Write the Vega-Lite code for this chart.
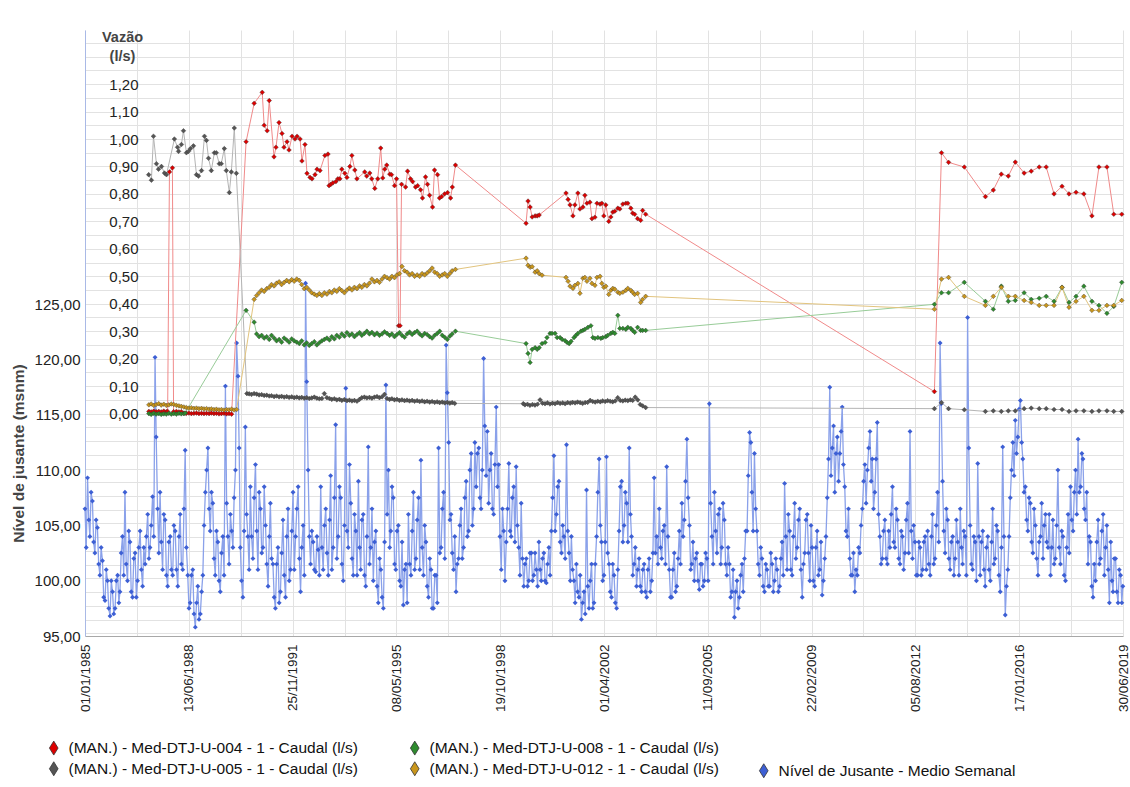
{
"$schema":"https://vega.github.io/schema/vega-lite/v6.json",
"width":1038,"height":606,
"autosize":{"type":"none"},
"padding":{"left":85,"top":30,"right":7,"bottom":151},
"background":"white",
"config":{"view":{"stroke":null},"font":"Liberation Sans",
 "axis":{"labelFont":"Liberation Sans","titleFont":"Liberation Sans","labelColor":"#222","titleColor":"#444","labelOverlap":false},
 "legend":{"labelFont":"Liberation Sans","labelColor":"#111","padding":0}},
"datasets":{
"lvl":[
{"d":"1985-01-01","v":106.5},{"d":"1985-01-16","v":103.0},{"d":"1985-02-01","v":109.3},{"d":"1985-02-16","v":105.5},{"d":"1985-03-01","v":104.0},{"d":"1985-03-16","v":108.0},{"d":"1985-04-01","v":107.2},{"d":"1985-04-16","v":103.5},{"d":"1985-05-01","v":102.5},{"d":"1985-05-16","v":105.5},{"d":"1985-06-01","v":104.8},{"d":"1985-06-16","v":101.5},{"d":"1985-07-01","v":100.5},{"d":"1985-07-16","v":103.0},{"d":"1985-08-01","v":101.8},{"d":"1985-08-16","v":98.5},{"d":"1985-09-01","v":98.2},{"d":"1985-09-16","v":101.0},{"d":"1985-10-01","v":100.0},{"d":"1985-10-16","v":97.5},{"d":"1985-11-01","v":96.8},{"d":"1985-11-16","v":100.0},{"d":"1985-12-01","v":99.0},{"d":"1985-12-16","v":97.0},
{"d":"1986-01-01","v":97.5},{"d":"1986-01-16","v":100.0},{"d":"1986-02-01","v":100.5},{"d":"1986-02-16","v":98.0},{"d":"1986-03-01","v":99.0},{"d":"1986-03-16","v":102.5},{"d":"1986-04-01","v":104.0},{"d":"1986-04-16","v":100.5},{"d":"1986-05-01","v":108.0},{"d":"1986-05-16","v":101.5},{"d":"1986-06-01","v":100.0},{"d":"1986-06-16","v":104.5},{"d":"1986-07-01","v":103.5},{"d":"1986-07-16","v":99.0},{"d":"1986-08-01","v":98.5},{"d":"1986-08-16","v":102.0},{"d":"1986-09-01","v":102.5},{"d":"1986-09-16","v":98.5},{"d":"1986-10-01","v":100.0},{"d":"1986-10-16","v":103.0},{"d":"1986-11-01","v":104.5},{"d":"1986-11-16","v":101.0},{"d":"1986-12-01","v":99.5},{"d":"1986-12-16","v":103.0},
{"d":"1987-01-01","v":101.5},{"d":"1987-01-16","v":104.0},{"d":"1987-02-01","v":106.0},{"d":"1987-02-16","v":102.0},{"d":"1987-03-01","v":103.0},{"d":"1987-03-16","v":105.0},{"d":"1987-04-01","v":107.6},{"d":"1987-04-16","v":104.0},{"d":"1987-05-01","v":120.2},{"d":"1987-05-15","v":113.0},{"d":"1987-06-01","v":106.5},{"d":"1987-06-16","v":102.5},{"d":"1987-07-01","v":108.0},{"d":"1987-07-16","v":103.5},{"d":"1987-08-01","v":101.0},{"d":"1987-08-16","v":106.0},{"d":"1987-09-01","v":105.5},{"d":"1987-09-16","v":100.5},{"d":"1987-10-01","v":99.5},{"d":"1987-10-16","v":103.5},{"d":"1987-11-01","v":104.0},{"d":"1987-11-16","v":101.0},{"d":"1987-12-01","v":100.5},{"d":"1987-12-16","v":105.0},
{"d":"1988-01-01","v":104.5},{"d":"1988-01-16","v":101.0},{"d":"1988-02-01","v":99.5},{"d":"1988-02-16","v":104.0},{"d":"1988-03-01","v":106.0},{"d":"1988-03-16","v":101.5},{"d":"1988-04-01","v":101.0},{"d":"1988-04-16","v":106.5},{"d":"1988-05-01","v":111.8},{"d":"1988-05-16","v":103.0},{"d":"1988-06-01","v":100.5},{"d":"1988-06-16","v":97.5},{"d":"1988-07-01","v":98.0},{"d":"1988-07-16","v":100.5},{"d":"1988-08-01","v":101.0},{"d":"1988-08-16","v":97.0},{"d":"1988-09-01","v":95.8},{"d":"1988-09-16","v":98.0},{"d":"1988-10-01","v":99.5},{"d":"1988-10-16","v":96.5},{"d":"1988-11-01","v":97.0},{"d":"1988-11-16","v":99.0},{"d":"1988-12-01","v":100.5},{"d":"1988-12-16","v":105.0},
{"d":"1989-01-01","v":108.0},{"d":"1989-01-16","v":110.0},{"d":"1989-02-01","v":112.0},{"d":"1989-02-16","v":106.5},{"d":"1989-03-01","v":104.5},{"d":"1989-03-16","v":108.0},{"d":"1989-04-01","v":107.0},{"d":"1989-04-16","v":102.0},{"d":"1989-05-01","v":100.5},{"d":"1989-05-16","v":104.5},{"d":"1989-06-01","v":103.5},{"d":"1989-06-16","v":100.0},{"d":"1989-07-01","v":99.0},{"d":"1989-07-16","v":102.5},{"d":"1989-08-01","v":104.0},{"d":"1989-08-16","v":100.5},{"d":"1989-09-01","v":117.6},{"d":"1989-09-16","v":107.0},{"d":"1989-10-01","v":104.0},{"d":"1989-10-16","v":101.5},{"d":"1989-11-01","v":106.0},{"d":"1989-11-16","v":104.5},{"d":"1989-12-01","v":103.0},{"d":"1989-12-16","v":107.5},
{"d":"1990-01-01","v":110.0},{"d":"1990-01-15","v":121.5},{"d":"1990-02-01","v":118.5},{"d":"1990-02-15","v":112.0},{"d":"1990-03-01","v":103.0},{"d":"1990-03-16","v":100.0},{"d":"1990-04-01","v":98.5},{"d":"1990-04-16","v":104.5},{"d":"1990-05-01","v":113.9},{"d":"1990-05-16","v":106.0},{"d":"1990-06-01","v":104.0},{"d":"1990-06-16","v":101.0},{"d":"1990-07-01","v":108.5},{"d":"1990-07-16","v":104.0},{"d":"1990-08-01","v":102.0},{"d":"1990-08-16","v":107.5},{"d":"1990-09-01","v":110.5},{"d":"1990-09-16","v":104.5},{"d":"1990-10-01","v":101.0},{"d":"1990-10-16","v":108.0},{"d":"1990-11-01","v":106.5},{"d":"1990-11-16","v":102.5},{"d":"1990-12-01","v":103.0},{"d":"1990-12-16","v":108.5},
{"d":"1991-01-01","v":105.0},{"d":"1991-01-16","v":101.5},{"d":"1991-02-01","v":99.5},{"d":"1991-02-16","v":104.0},{"d":"1991-03-01","v":107.0},{"d":"1991-03-16","v":102.0},{"d":"1991-04-01","v":101.5},{"d":"1991-04-16","v":98.5},{"d":"1991-05-01","v":97.5},{"d":"1991-05-16","v":101.5},{"d":"1991-06-01","v":103.0},{"d":"1991-06-16","v":98.0},{"d":"1991-07-01","v":99.0},{"d":"1991-07-16","v":102.5},{"d":"1991-08-01","v":105.5},{"d":"1991-08-16","v":100.5},{"d":"1991-09-01","v":98.5},{"d":"1991-09-16","v":104.0},{"d":"1991-10-01","v":106.5},{"d":"1991-10-16","v":100.0},{"d":"1991-11-01","v":101.0},{"d":"1991-11-16","v":104.5},{"d":"1991-12-01","v":108.0},{"d":"1991-12-16","v":101.0},
{"d":"1992-01-01","v":104.0},{"d":"1992-01-16","v":106.5},{"d":"1992-02-01","v":108.5},{"d":"1992-02-16","v":102.0},{"d":"1992-03-01","v":99.0},{"d":"1992-03-16","v":103.0},{"d":"1992-04-01","v":105.0},{"d":"1992-04-16","v":100.5},{"d":"1992-05-01","v":126.9},{"d":"1992-05-15","v":118.0},{"d":"1992-06-01","v":110.0},{"d":"1992-06-16","v":104.0},{"d":"1992-07-01","v":101.5},{"d":"1992-07-16","v":104.5},{"d":"1992-08-01","v":103.5},{"d":"1992-08-16","v":101.0},{"d":"1992-09-01","v":100.8},{"d":"1992-09-16","v":104.0},{"d":"1992-10-01","v":102.8},{"d":"1992-10-16","v":100.5},{"d":"1992-11-01","v":108.5},{"d":"1992-11-16","v":103.0},{"d":"1992-12-01","v":101.0},{"d":"1992-12-16","v":105.0},
{"d":"1993-01-01","v":106.5},{"d":"1993-01-16","v":102.5},{"d":"1993-02-01","v":100.5},{"d":"1993-02-16","v":105.5},{"d":"1993-03-01","v":109.5},{"d":"1993-03-16","v":101.0},{"d":"1993-04-01","v":103.0},{"d":"1993-04-16","v":107.5},{"d":"1993-05-01","v":114.1},{"d":"1993-05-16","v":102.0},{"d":"1993-06-01","v":104.0},{"d":"1993-06-16","v":108.5},{"d":"1993-07-01","v":107.5},{"d":"1993-07-16","v":101.5},{"d":"1993-08-01","v":100.0},{"d":"1993-08-16","v":105.0},{"d":"1993-09-01","v":117.4},{"d":"1993-09-16","v":104.5},{"d":"1993-10-01","v":103.0},{"d":"1993-10-16","v":110.5},{"d":"1993-11-01","v":107.0},{"d":"1993-11-16","v":102.0},{"d":"1993-12-01","v":100.5},{"d":"1993-12-16","v":106.0},
{"d":"1994-01-01","v":104.5},{"d":"1994-01-16","v":100.5},{"d":"1994-02-01","v":109.0},{"d":"1994-02-16","v":103.0},{"d":"1994-03-01","v":101.0},{"d":"1994-03-16","v":105.5},{"d":"1994-04-01","v":106.0},{"d":"1994-04-16","v":100.5},{"d":"1994-05-01","v":99.5},{"d":"1994-05-16","v":104.0},{"d":"1994-06-01","v":112.1},{"d":"1994-06-16","v":101.5},{"d":"1994-07-01","v":103.0},{"d":"1994-07-16","v":106.5},{"d":"1994-08-01","v":100.0},{"d":"1994-08-16","v":103.5},{"d":"1994-09-01","v":104.5},{"d":"1994-09-16","v":99.5},{"d":"1994-10-01","v":98.0},{"d":"1994-10-16","v":102.0},{"d":"1994-11-01","v":101.0},{"d":"1994-11-16","v":98.5},{"d":"1994-12-01","v":97.5},{"d":"1994-12-16","v":103.5},
{"d":"1995-01-01","v":117.7},{"d":"1995-01-16","v":106.0},{"d":"1995-02-01","v":110.0},{"d":"1995-02-16","v":103.0},{"d":"1995-03-01","v":104.5},{"d":"1995-03-16","v":108.5},{"d":"1995-04-01","v":107.5},{"d":"1995-04-16","v":101.5},{"d":"1995-05-01","v":101.0},{"d":"1995-05-16","v":104.5},{"d":"1995-06-01","v":105.0},{"d":"1995-06-16","v":100.0},{"d":"1995-07-01","v":99.5},{"d":"1995-07-16","v":103.5},{"d":"1995-08-01","v":97.8},{"d":"1995-08-16","v":101.0},{"d":"1995-09-01","v":101.5},{"d":"1995-09-16","v":98.0},{"d":"1995-10-01","v":106.0},{"d":"1995-10-16","v":101.5},{"d":"1995-11-01","v":100.5},{"d":"1995-11-16","v":104.5},{"d":"1995-12-01","v":108.0},{"d":"1995-12-16","v":101.0},
{"d":"1996-01-01","v":102.0},{"d":"1996-01-16","v":105.5},{"d":"1996-02-01","v":107.5},{"d":"1996-02-16","v":101.0},{"d":"1996-03-01","v":110.9},{"d":"1996-03-16","v":103.0},{"d":"1996-04-01","v":100.5},{"d":"1996-04-16","v":105.0},{"d":"1996-05-01","v":103.5},{"d":"1996-05-16","v":99.5},{"d":"1996-06-01","v":98.5},{"d":"1996-06-16","v":102.0},{"d":"1996-07-01","v":101.0},{"d":"1996-07-16","v":97.5},{"d":"1996-08-01","v":97.5},{"d":"1996-08-16","v":100.5},{"d":"1996-09-01","v":100.5},{"d":"1996-09-16","v":98.0},{"d":"1996-10-01","v":112.0},{"d":"1996-10-16","v":102.5},{"d":"1996-11-01","v":103.0},{"d":"1996-11-16","v":106.5},{"d":"1996-12-01","v":108.0},{"d":"1996-12-16","v":102.0},
{"d":"1997-01-01","v":121.3},{"d":"1997-01-15","v":117.0},{"d":"1997-02-01","v":112.5},{"d":"1997-02-16","v":105.5},{"d":"1997-03-01","v":106.0},{"d":"1997-03-16","v":102.5},{"d":"1997-04-01","v":101.0},{"d":"1997-04-16","v":104.0},{"d":"1997-05-01","v":99.0},{"d":"1997-05-16","v":101.5},{"d":"1997-06-01","v":102.0},{"d":"1997-06-16","v":105.0},{"d":"1997-07-01","v":106.5},{"d":"1997-07-16","v":102.0},{"d":"1997-08-01","v":103.0},{"d":"1997-08-16","v":107.5},{"d":"1997-09-01","v":109.0},{"d":"1997-09-16","v":104.0},{"d":"1997-10-01","v":104.5},{"d":"1997-10-16","v":110.0},{"d":"1997-11-01","v":111.5},{"d":"1997-11-16","v":105.0},{"d":"1997-12-01","v":106.5},{"d":"1997-12-16","v":112.5},
{"d":"1998-01-01","v":108.5},{"d":"1998-01-16","v":111.5},{"d":"1998-02-01","v":112.0},{"d":"1998-02-16","v":107.5},{"d":"1998-03-01","v":106.5},{"d":"1998-03-16","v":110.0},{"d":"1998-04-01","v":120.1},{"d":"1998-04-15","v":114.0},{"d":"1998-05-01","v":109.5},{"d":"1998-05-16","v":113.5},{"d":"1998-06-01","v":107.0},{"d":"1998-06-16","v":110.0},{"d":"1998-07-01","v":111.5},{"d":"1998-07-16","v":106.5},{"d":"1998-08-01","v":106.0},{"d":"1998-08-16","v":110.5},{"d":"1998-09-01","v":115.7},{"d":"1998-09-16","v":108.5},{"d":"1998-10-01","v":110.5},{"d":"1998-10-16","v":104.0},{"d":"1998-11-01","v":101.0},{"d":"1998-11-16","v":106.5},{"d":"1998-12-01","v":104.5},{"d":"1998-12-16","v":100.0},
{"d":"1999-01-01","v":103.5},{"d":"1999-01-16","v":106.5},{"d":"1999-02-01","v":110.6},{"d":"1999-02-16","v":104.5},{"d":"1999-03-01","v":104.0},{"d":"1999-03-16","v":107.5},{"d":"1999-04-01","v":108.5},{"d":"1999-04-16","v":103.5},{"d":"1999-05-01","v":110.3},{"d":"1999-05-16","v":105.0},{"d":"1999-06-01","v":103.0},{"d":"1999-06-16","v":100.5},{"d":"1999-07-01","v":107.0},{"d":"1999-07-16","v":102.0},{"d":"1999-08-01","v":99.5},{"d":"1999-08-16","v":101.5},{"d":"1999-09-01","v":102.0},{"d":"1999-09-16","v":99.5},{"d":"1999-10-01","v":100.0},{"d":"1999-10-16","v":102.5},{"d":"1999-11-01","v":102.5},{"d":"1999-11-16","v":100.0},{"d":"1999-12-01","v":100.5},{"d":"1999-12-16","v":102.5},
{"d":"2000-01-01","v":101.0},{"d":"2000-01-16","v":99.5},{"d":"2000-02-01","v":103.5},{"d":"2000-02-16","v":101.0},{"d":"2000-03-01","v":100.0},{"d":"2000-03-16","v":102.0},{"d":"2000-04-01","v":102.5},{"d":"2000-04-16","v":100.0},{"d":"2000-05-01","v":99.8},{"d":"2000-05-16","v":101.5},{"d":"2000-06-01","v":103.0},{"d":"2000-06-16","v":100.5},{"d":"2000-07-01","v":104.5},{"d":"2000-07-16","v":107.5},{"d":"2000-08-01","v":111.3},{"d":"2000-08-16","v":104.5},{"d":"2000-09-01","v":106.0},{"d":"2000-09-16","v":108.5},{"d":"2000-10-01","v":109.0},{"d":"2000-10-16","v":103.5},{"d":"2000-11-01","v":102.5},{"d":"2000-11-16","v":105.0},{"d":"2000-12-01","v":104.0},{"d":"2000-12-16","v":102.0},
{"d":"2001-01-01","v":112.3},{"d":"2001-01-16","v":104.5},{"d":"2001-02-01","v":102.5},{"d":"2001-02-16","v":100.0},{"d":"2001-03-01","v":104.0},{"d":"2001-03-16","v":101.0},{"d":"2001-04-01","v":100.0},{"d":"2001-04-16","v":98.0},{"d":"2001-05-01","v":101.5},{"d":"2001-05-16","v":99.0},{"d":"2001-06-01","v":98.5},{"d":"2001-06-16","v":100.5},{"d":"2001-07-01","v":96.5},{"d":"2001-07-16","v":98.0},{"d":"2001-08-01","v":99.0},{"d":"2001-08-16","v":97.0},{"d":"2001-09-01","v":108.2},{"d":"2001-09-16","v":99.5},{"d":"2001-10-01","v":97.5},{"d":"2001-10-16","v":100.0},{"d":"2001-11-01","v":101.5},{"d":"2001-11-16","v":97.5},{"d":"2001-12-01","v":98.0},{"d":"2001-12-16","v":101.5},
{"d":"2002-01-01","v":104.0},{"d":"2002-01-16","v":108.0},{"d":"2002-02-01","v":111.0},{"d":"2002-02-16","v":105.0},{"d":"2002-03-01","v":103.5},{"d":"2002-03-16","v":100.0},{"d":"2002-04-01","v":100.5},{"d":"2002-04-16","v":103.5},{"d":"2002-05-01","v":111.2},{"d":"2002-05-16","v":102.5},{"d":"2002-06-01","v":101.5},{"d":"2002-06-16","v":99.0},{"d":"2002-07-01","v":98.5},{"d":"2002-07-16","v":101.5},{"d":"2002-08-01","v":100.5},{"d":"2002-08-16","v":98.0},{"d":"2002-09-01","v":97.5},{"d":"2002-09-16","v":101.0},{"d":"2002-10-01","v":104.5},{"d":"2002-10-16","v":108.5},{"d":"2002-11-01","v":109.0},{"d":"2002-11-16","v":103.5},{"d":"2002-12-01","v":105.0},{"d":"2002-12-16","v":108.0},
{"d":"2003-01-01","v":107.0},{"d":"2003-01-16","v":103.5},{"d":"2003-02-01","v":112.0},{"d":"2003-02-16","v":106.0},{"d":"2003-03-01","v":104.0},{"d":"2003-03-16","v":100.5},{"d":"2003-04-01","v":101.5},{"d":"2003-04-16","v":103.0},{"d":"2003-05-01","v":99.5},{"d":"2003-05-16","v":101.0},{"d":"2003-06-01","v":102.0},{"d":"2003-06-16","v":99.5},{"d":"2003-07-01","v":99.0},{"d":"2003-07-16","v":101.0},{"d":"2003-08-01","v":101.5},{"d":"2003-08-16","v":99.0},{"d":"2003-09-01","v":98.5},{"d":"2003-09-16","v":101.0},{"d":"2003-10-01","v":102.0},{"d":"2003-10-16","v":99.0},{"d":"2003-11-01","v":100.0},{"d":"2003-11-16","v":102.5},{"d":"2003-12-01","v":109.3},{"d":"2003-12-16","v":102.5},
{"d":"2004-01-01","v":104.0},{"d":"2004-01-16","v":101.5},{"d":"2004-02-01","v":106.5},{"d":"2004-02-16","v":103.0},{"d":"2004-03-01","v":102.0},{"d":"2004-03-16","v":104.5},{"d":"2004-04-01","v":105.0},{"d":"2004-04-16","v":101.5},{"d":"2004-05-01","v":110.3},{"d":"2004-05-16","v":104.0},{"d":"2004-06-01","v":101.0},{"d":"2004-06-16","v":98.5},{"d":"2004-07-01","v":98.5},{"d":"2004-07-16","v":101.0},{"d":"2004-08-01","v":102.5},{"d":"2004-08-16","v":99.0},{"d":"2004-09-01","v":99.5},{"d":"2004-09-16","v":102.0},{"d":"2004-10-01","v":104.5},{"d":"2004-10-16","v":101.5},{"d":"2004-11-01","v":107.0},{"d":"2004-11-16","v":104.0},{"d":"2004-12-01","v":105.5},{"d":"2004-12-16","v":109.0},
{"d":"2005-01-01","v":112.8},{"d":"2005-01-16","v":107.5},{"d":"2005-02-01","v":105.0},{"d":"2005-02-16","v":101.0},{"d":"2005-03-01","v":101.5},{"d":"2005-03-16","v":103.5},{"d":"2005-04-01","v":100.0},{"d":"2005-04-16","v":102.0},{"d":"2005-05-01","v":102.5},{"d":"2005-05-16","v":100.0},{"d":"2005-06-01","v":99.2},{"d":"2005-06-16","v":101.5},{"d":"2005-07-01","v":101.5},{"d":"2005-07-16","v":99.5},{"d":"2005-08-01","v":100.0},{"d":"2005-08-16","v":102.5},{"d":"2005-09-01","v":102.0},{"d":"2005-09-16","v":100.0},{"d":"2005-10-01","v":116.0},{"d":"2005-10-16","v":107.0},{"d":"2005-11-01","v":104.0},{"d":"2005-11-16","v":101.5},{"d":"2005-12-01","v":108.0},{"d":"2005-12-16","v":104.5},
{"d":"2006-01-01","v":102.5},{"d":"2006-01-16","v":106.0},{"d":"2006-02-01","v":106.5},{"d":"2006-02-16","v":101.5},{"d":"2006-03-01","v":103.0},{"d":"2006-03-16","v":107.0},{"d":"2006-04-01","v":105.5},{"d":"2006-04-16","v":101.5},{"d":"2006-05-01","v":100.5},{"d":"2006-05-16","v":103.0},{"d":"2006-06-01","v":101.5},{"d":"2006-06-16","v":98.5},{"d":"2006-07-01","v":99.0},{"d":"2006-07-16","v":101.0},{"d":"2006-08-01","v":96.7},{"d":"2006-08-16","v":99.0},{"d":"2006-09-01","v":100.0},{"d":"2006-09-16","v":97.5},{"d":"2006-10-01","v":98.5},{"d":"2006-10-16","v":100.5},{"d":"2006-11-01","v":101.5},{"d":"2006-11-16","v":99.0},{"d":"2006-12-01","v":102.0},{"d":"2006-12-16","v":104.5},
{"d":"2007-01-01","v":104.5},{"d":"2007-01-16","v":109.5},{"d":"2007-02-01","v":113.4},{"d":"2007-02-16","v":112.5},{"d":"2007-03-01","v":108.0},{"d":"2007-03-16","v":104.5},{"d":"2007-04-01","v":111.5},{"d":"2007-04-16","v":106.5},{"d":"2007-05-01","v":104.5},{"d":"2007-05-16","v":101.5},{"d":"2007-06-01","v":100.5},{"d":"2007-06-16","v":103.0},{"d":"2007-07-01","v":102.0},{"d":"2007-07-16","v":99.5},{"d":"2007-08-01","v":99.0},{"d":"2007-08-16","v":101.5},{"d":"2007-09-01","v":101.0},{"d":"2007-09-16","v":99.5},{"d":"2007-10-01","v":99.5},{"d":"2007-10-16","v":102.5},{"d":"2007-11-01","v":101.5},{"d":"2007-11-16","v":99.0},{"d":"2007-12-01","v":100.0},{"d":"2007-12-16","v":102.0},
{"d":"2008-01-01","v":101.0},{"d":"2008-01-16","v":99.0},{"d":"2008-02-01","v":99.5},{"d":"2008-02-16","v":102.0},{"d":"2008-03-01","v":103.5},{"d":"2008-03-16","v":100.5},{"d":"2008-04-01","v":108.8},{"d":"2008-04-16","v":104.0},{"d":"2008-05-01","v":101.0},{"d":"2008-05-16","v":106.0},{"d":"2008-06-01","v":104.5},{"d":"2008-06-16","v":101.0},{"d":"2008-07-01","v":100.5},{"d":"2008-07-16","v":104.0},{"d":"2008-08-01","v":107.0},{"d":"2008-08-16","v":102.0},{"d":"2008-09-01","v":103.0},{"d":"2008-09-16","v":105.5},{"d":"2008-10-01","v":106.5},{"d":"2008-10-16","v":101.0},{"d":"2008-11-01","v":98.5},{"d":"2008-11-16","v":101.5},{"d":"2008-12-01","v":102.5},{"d":"2008-12-16","v":105.5},
{"d":"2009-01-01","v":106.0},{"d":"2009-01-16","v":102.5},{"d":"2009-02-01","v":100.0},{"d":"2009-02-16","v":105.0},{"d":"2009-03-01","v":103.0},{"d":"2009-03-16","v":100.0},{"d":"2009-04-01","v":99.5},{"d":"2009-04-16","v":103.0},{"d":"2009-05-01","v":104.5},{"d":"2009-05-16","v":100.5},{"d":"2009-06-01","v":101.0},{"d":"2009-06-16","v":103.5},{"d":"2009-07-01","v":98.7},{"d":"2009-07-16","v":100.0},{"d":"2009-08-01","v":102.0},{"d":"2009-08-16","v":104.0},{"d":"2009-09-01","v":107.5},{"d":"2009-09-16","v":111.0},{"d":"2009-10-01","v":117.5},{"d":"2009-10-16","v":109.5},{"d":"2009-11-01","v":112.0},{"d":"2009-11-16","v":114.0},{"d":"2009-12-01","v":108.0},{"d":"2009-12-16","v":111.5},
{"d":"2010-01-01","v":113.0},{"d":"2010-01-16","v":109.0},{"d":"2010-02-01","v":111.5},{"d":"2010-02-16","v":113.5},{"d":"2010-03-01","v":115.7},{"d":"2010-03-16","v":110.5},{"d":"2010-04-01","v":108.5},{"d":"2010-04-16","v":104.5},{"d":"2010-05-01","v":104.0},{"d":"2010-05-16","v":106.5},{"d":"2010-06-01","v":102.0},{"d":"2010-06-16","v":100.5},{"d":"2010-07-01","v":100.5},{"d":"2010-07-16","v":102.5},{"d":"2010-08-01","v":99.0},{"d":"2010-08-16","v":101.0},{"d":"2010-09-01","v":100.5},{"d":"2010-09-16","v":103.0},{"d":"2010-10-01","v":102.5},{"d":"2010-10-16","v":105.0},{"d":"2010-11-01","v":106.5},{"d":"2010-11-16","v":109.0},{"d":"2010-12-01","v":110.5},{"d":"2010-12-16","v":107.0},
{"d":"2011-01-01","v":110.0},{"d":"2011-01-16","v":112.0},{"d":"2011-02-01","v":113.5},{"d":"2011-02-16","v":109.0},{"d":"2011-03-01","v":111.0},{"d":"2011-03-16","v":106.5},{"d":"2011-04-01","v":108.0},{"d":"2011-04-16","v":111.0},{"d":"2011-05-01","v":114.3},{"d":"2011-05-16","v":106.0},{"d":"2011-06-01","v":104.0},{"d":"2011-06-16","v":101.5},{"d":"2011-07-01","v":102.0},{"d":"2011-07-16","v":104.5},{"d":"2011-08-01","v":105.5},{"d":"2011-08-16","v":102.0},{"d":"2011-09-01","v":101.5},{"d":"2011-09-16","v":104.5},{"d":"2011-10-01","v":103.0},{"d":"2011-10-16","v":106.0},{"d":"2011-11-01","v":108.5},{"d":"2011-11-16","v":103.5},{"d":"2011-12-01","v":103.0},{"d":"2011-12-16","v":106.5},
{"d":"2012-01-01","v":105.5},{"d":"2012-01-16","v":102.0},{"d":"2012-02-01","v":101.5},{"d":"2012-02-16","v":104.5},{"d":"2012-03-01","v":104.0},{"d":"2012-03-16","v":101.0},{"d":"2012-04-01","v":102.5},{"d":"2012-04-16","v":105.5},{"d":"2012-05-01","v":107.0},{"d":"2012-05-16","v":102.5},{"d":"2012-06-01","v":113.5},{"d":"2012-06-16","v":104.5},{"d":"2012-07-01","v":102.0},{"d":"2012-07-16","v":105.0},{"d":"2012-08-01","v":103.5},{"d":"2012-08-16","v":100.5},{"d":"2012-09-01","v":100.5},{"d":"2012-09-16","v":103.5},{"d":"2012-10-01","v":103.0},{"d":"2012-10-16","v":100.5},{"d":"2012-11-01","v":101.0},{"d":"2012-11-16","v":103.5},{"d":"2012-12-01","v":104.0},{"d":"2012-12-16","v":101.0},
{"d":"2013-01-01","v":104.5},{"d":"2013-01-16","v":101.5},{"d":"2013-02-01","v":100.5},{"d":"2013-02-16","v":104.0},{"d":"2013-03-01","v":106.0},{"d":"2013-03-16","v":101.5},{"d":"2013-04-01","v":102.0},{"d":"2013-04-16","v":105.0},{"d":"2013-05-01","v":108.0},{"d":"2013-05-16","v":103.5},{"d":"2013-06-01","v":121.5},{"d":"2013-06-15","v":116.0},{"d":"2013-07-01","v":109.0},{"d":"2013-07-16","v":104.5},{"d":"2013-08-01","v":102.5},{"d":"2013-08-16","v":106.5},{"d":"2013-09-01","v":105.5},{"d":"2013-09-16","v":102.0},{"d":"2013-10-01","v":101.0},{"d":"2013-10-16","v":103.5},{"d":"2013-11-01","v":104.0},{"d":"2013-11-16","v":100.5},{"d":"2013-12-01","v":102.0},{"d":"2013-12-16","v":105.5},
{"d":"2014-01-01","v":103.5},{"d":"2014-01-16","v":100.5},{"d":"2014-02-01","v":106.5},{"d":"2014-02-16","v":103.0},{"d":"2014-03-01","v":101.5},{"d":"2014-03-16","v":104.5},{"d":"2014-04-01","v":104.0},{"d":"2014-04-16","v":100.5},{"d":"2014-05-01","v":123.8},{"d":"2014-05-15","v":112.0},{"d":"2014-06-01","v":105.0},{"d":"2014-06-16","v":101.5},{"d":"2014-07-01","v":101.0},{"d":"2014-07-16","v":104.0},{"d":"2014-08-01","v":103.5},{"d":"2014-08-16","v":100.0},{"d":"2014-09-01","v":110.6},{"d":"2014-09-16","v":104.0},{"d":"2014-10-01","v":100.5},{"d":"2014-10-16","v":103.5},{"d":"2014-11-01","v":104.5},{"d":"2014-11-16","v":101.0},{"d":"2014-12-01","v":99.5},{"d":"2014-12-16","v":103.0},
{"d":"2015-01-01","v":104.0},{"d":"2015-01-16","v":101.0},{"d":"2015-02-01","v":100.0},{"d":"2015-02-16","v":103.5},{"d":"2015-03-01","v":106.5},{"d":"2015-03-16","v":101.5},{"d":"2015-04-01","v":102.0},{"d":"2015-04-16","v":105.0},{"d":"2015-05-01","v":104.5},{"d":"2015-05-16","v":100.5},{"d":"2015-06-01","v":99.0},{"d":"2015-06-16","v":103.0},{"d":"2015-07-01","v":112.1},{"d":"2015-07-16","v":104.0},{"d":"2015-08-01","v":96.9},{"d":"2015-08-16","v":99.5},{"d":"2015-09-01","v":101.0},{"d":"2015-09-16","v":104.0},{"d":"2015-10-01","v":107.5},{"d":"2015-10-16","v":110.0},{"d":"2015-11-01","v":112.5},{"d":"2015-11-16","v":109.5},{"d":"2015-12-01","v":114.5},{"d":"2015-12-16","v":111.5},
{"d":"2016-01-01","v":113.0},{"d":"2016-01-16","v":115.5},{"d":"2016-02-01","v":116.3},{"d":"2016-02-16","v":112.5},{"d":"2016-03-01","v":111.0},{"d":"2016-03-16","v":108.0},{"d":"2016-04-01","v":108.5},{"d":"2016-04-16","v":105.5},{"d":"2016-05-01","v":104.5},{"d":"2016-05-16","v":107.5},{"d":"2016-06-01","v":107.0},{"d":"2016-06-16","v":103.5},{"d":"2016-07-01","v":102.5},{"d":"2016-07-16","v":106.5},{"d":"2016-08-01","v":105.0},{"d":"2016-08-16","v":102.0},{"d":"2016-09-01","v":100.5},{"d":"2016-09-16","v":103.5},{"d":"2016-10-01","v":104.0},{"d":"2016-10-16","v":107.0},{"d":"2016-11-01","v":102.0},{"d":"2016-11-16","v":105.0},{"d":"2016-12-01","v":106.0},{"d":"2016-12-16","v":103.5},
{"d":"2017-01-01","v":103.0},{"d":"2017-01-16","v":106.0},{"d":"2017-02-01","v":100.5},{"d":"2017-02-16","v":103.0},{"d":"2017-03-01","v":105.5},{"d":"2017-03-16","v":101.5},{"d":"2017-04-01","v":102.0},{"d":"2017-04-16","v":105.0},{"d":"2017-05-01","v":110.0},{"d":"2017-05-16","v":103.0},{"d":"2017-06-01","v":101.5},{"d":"2017-06-16","v":104.5},{"d":"2017-07-01","v":104.0},{"d":"2017-07-16","v":100.5},{"d":"2017-08-01","v":100.0},{"d":"2017-08-16","v":103.0},{"d":"2017-09-01","v":106.0},{"d":"2017-09-16","v":102.5},{"d":"2017-10-01","v":108.5},{"d":"2017-10-16","v":105.5},{"d":"2017-11-01","v":104.5},{"d":"2017-11-16","v":108.0},{"d":"2017-12-01","v":110.0},{"d":"2017-12-16","v":106.0},
{"d":"2018-01-01","v":112.8},{"d":"2018-01-16","v":108.0},{"d":"2018-02-01","v":108.5},{"d":"2018-02-16","v":111.5},{"d":"2018-03-01","v":111.0},{"d":"2018-03-16","v":106.5},{"d":"2018-04-01","v":105.5},{"d":"2018-04-16","v":108.0},{"d":"2018-05-01","v":101.5},{"d":"2018-05-16","v":104.0},{"d":"2018-06-01","v":103.5},{"d":"2018-06-16","v":99.5},{"d":"2018-07-01","v":98.5},{"d":"2018-07-16","v":101.5},{"d":"2018-08-01","v":100.0},{"d":"2018-08-16","v":103.5},{"d":"2018-09-01","v":105.5},{"d":"2018-09-16","v":101.5},{"d":"2018-10-01","v":102.0},{"d":"2018-10-16","v":104.5},{"d":"2018-11-01","v":106.0},{"d":"2018-11-16","v":100.5},{"d":"2018-12-01","v":103.0},{"d":"2018-12-16","v":105.0},
{"d":"2019-01-01","v":101.0},{"d":"2019-01-16","v":98.0},{"d":"2019-02-01","v":103.5},{"d":"2019-02-16","v":100.0},{"d":"2019-03-01","v":99.0},{"d":"2019-03-16","v":102.0},{"d":"2019-04-01","v":102.0},{"d":"2019-04-16","v":99.0},{"d":"2019-05-01","v":98.0},{"d":"2019-05-16","v":101.0},{"d":"2019-06-01","v":100.5},{"d":"2019-06-16","v":98.0},{"d":"2019-06-28","v":99.5}
],
"vaz":[
{"d":"1987-02-15","s":"004","v":0.008},{"d":"1987-03-15","s":"004","v":0.006},{"d":"1987-04-15","s":"004","v":0.009},{"d":"1987-05-15","s":"004","v":0.007},{"d":"1987-06-15","s":"004","v":0.008},{"d":"1987-07-15","s":"004","v":0.006},{"d":"1987-08-15","s":"004","v":0.009},{"d":"1987-09-15","s":"004","v":0.007},{"d":"1987-10-01","s":"004","v":0.008},{"d":"1987-10-23","s":"004","v":0.88},{"d":"1987-11-28","s":"004","v":0.895},{"d":"1987-12-12","s":"004","v":0.007},
{"d":"1988-01-15","s":"004","v":0.008},{"d":"1988-02-15","s":"004","v":0.006},{"d":"1988-03-15","s":"004","v":0.007},{"d":"1988-04-15","s":"004","v":0.002},{"d":"1988-05-15","s":"004","v":0.001},{"d":"1988-06-15","s":"004","v":0.002},{"d":"1988-07-15","s":"004","v":0.0},{"d":"1988-08-15","s":"004","v":0.001},{"d":"1988-09-15","s":"004","v":0.002},{"d":"1988-10-15","s":"004","v":0.0},{"d":"1988-11-15","s":"004","v":0.001},{"d":"1988-12-15","s":"004","v":0.0},
{"d":"1989-01-15","s":"004","v":0.001},{"d":"1989-02-15","s":"004","v":0.0},{"d":"1989-03-15","s":"004","v":0.002},{"d":"1989-04-15","s":"004","v":0.0},{"d":"1989-05-15","s":"004","v":0.001},{"d":"1989-06-15","s":"004","v":-0.001},{"d":"1989-07-15","s":"004","v":0.0},{"d":"1989-08-15","s":"004","v":0.001},{"d":"1989-09-15","s":"004","v":-0.001},{"d":"1989-10-15","s":"004","v":0.0},{"d":"1989-11-15","s":"004","v":-0.002},
{"d":"1990-05-10","s":"004","v":0.99},{"d":"1990-08-16","s":"004","v":1.13},{"d":"1990-11-22","s":"004","v":1.17},{"d":"1990-12-15","s":"004","v":1.05},{"d":"1991-01-21","s":"004","v":1.03},{"d":"1991-02-15","s":"004","v":1.14},{"d":"1991-04-14","s":"004","v":0.935},{"d":"1991-05-08","s":"004","v":0.97},{"d":"1991-06-14","s":"004","v":1.06},{"d":"1991-07-20","s":"004","v":1.02},{"d":"1991-08-13","s":"004","v":0.97},{"d":"1991-09-19","s":"004","v":0.99},{"d":"1991-10-13","s":"004","v":0.96},{"d":"1991-11-19","s":"004","v":1.01},{"d":"1991-12-25","s":"004","v":1.0},
{"d":"1992-01-19","s":"004","v":1.01},{"d":"1992-02-24","s":"004","v":1.0},{"d":"1992-03-18","s":"004","v":0.92},{"d":"1992-04-24","s":"004","v":0.98},{"d":"1992-05-18","s":"004","v":0.875},{"d":"1992-06-24","s":"004","v":0.86},{"d":"1992-07-18","s":"004","v":0.855},{"d":"1992-08-24","s":"004","v":0.87},{"d":"1992-09-17","s":"004","v":0.89},{"d":"1992-10-23","s":"004","v":0.885},{"d":"1992-12-22","s":"004","v":0.94},
{"d":"1993-01-28","s":"004","v":0.945},{"d":"1993-02-10","s":"004","v":0.83},{"d":"1993-03-04","s":"004","v":0.835},{"d":"1993-03-28","s":"004","v":0.84},{"d":"1993-05-04","s":"004","v":0.845},{"d":"1993-05-28","s":"004","v":0.855},{"d":"1993-06-21","s":"004","v":0.855},{"d":"1993-07-15","s":"004","v":0.89},{"d":"1993-08-21","s":"004","v":0.875},{"d":"1993-09-15","s":"004","v":0.86},{"d":"1993-10-21","s":"004","v":0.9},{"d":"1993-11-14","s":"004","v":0.94},{"d":"1993-12-20","s":"004","v":0.887},
{"d":"1994-01-14","s":"004","v":0.855},{"d":"1994-04-19","s":"004","v":0.88},{"d":"1994-05-13","s":"004","v":0.865},{"d":"1994-06-19","s":"004","v":0.876},{"d":"1994-07-13","s":"004","v":0.855},{"d":"1994-08-19","s":"004","v":0.82},{"d":"1994-09-24","s":"004","v":0.855},{"d":"1994-10-30","s":"004","v":0.967},{"d":"1994-11-24","s":"004","v":0.858},{"d":"1994-12-18","s":"004","v":0.89},
{"d":"1995-01-11","s":"004","v":0.905},{"d":"1995-02-17","s":"004","v":0.872},{"d":"1995-03-10","s":"004","v":0.87},{"d":"1995-04-16","s":"004","v":0.83},{"d":"1995-05-10","s":"004","v":0.855},{"d":"1995-06-04","s":"004","v":0.32},{"d":"1995-06-22","s":"004","v":0.32},{"d":"1995-07-10","s":"004","v":0.835},{"d":"1995-08-28","s":"004","v":0.825},{"d":"1995-09-21","s":"004","v":0.883},{"d":"1995-10-27","s":"004","v":0.855},{"d":"1995-11-21","s":"004","v":0.845},{"d":"1995-12-27","s":"004","v":0.825},
{"d":"1996-01-21","s":"004","v":0.83},{"d":"1996-02-26","s":"004","v":0.815},{"d":"1996-03-20","s":"004","v":0.785},{"d":"1996-04-26","s":"004","v":0.862},{"d":"1996-05-20","s":"004","v":0.835},{"d":"1996-06-14","s":"004","v":0.795},{"d":"1996-07-20","s":"004","v":0.752},{"d":"1996-08-13","s":"004","v":0.887},{"d":"1996-09-19","s":"004","v":0.87},{"d":"1996-10-13","s":"004","v":0.785},{"d":"1996-11-07","s":"004","v":0.79},{"d":"1996-12-13","s":"004","v":0.8},
{"d":"1997-01-18","s":"004","v":0.805},{"d":"1997-02-24","s":"004","v":0.785},{"d":"1997-03-17","s":"004","v":0.825},{"d":"1997-04-24","s":"004","v":0.905},
{"d":"1999-08-29","s":"004","v":0.693},{"d":"1999-09-22","s":"004","v":0.774},{"d":"1999-10-17","s":"004","v":0.752},{"d":"1999-11-11","s":"004","v":0.716},{"d":"1999-12-17","s":"004","v":0.72},{"d":"2000-01-11","s":"004","v":0.72},{"d":"2000-02-04","s":"004","v":0.723},
{"d":"2000-12-26","s":"004","v":0.803},{"d":"2001-01-20","s":"004","v":0.78},{"d":"2001-02-13","s":"004","v":0.76},{"d":"2001-03-20","s":"004","v":0.72},{"d":"2001-04-13","s":"004","v":0.76},{"d":"2001-05-19","s":"004","v":0.803},{"d":"2001-06-13","s":"004","v":0.745},{"d":"2001-07-19","s":"004","v":0.752},{"d":"2001-08-12","s":"004","v":0.795},{"d":"2001-09-06","s":"004","v":0.766},{"d":"2001-10-12","s":"004","v":0.77},{"d":"2001-11-06","s":"004","v":0.71},{"d":"2001-12-12","s":"004","v":0.715},
{"d":"2002-01-06","s":"004","v":0.766},{"d":"2002-02-12","s":"004","v":0.763},{"d":"2002-03-06","s":"004","v":0.766},{"d":"2002-03-30","s":"004","v":0.72},{"d":"2002-04-23","s":"004","v":0.76},{"d":"2002-05-29","s":"004","v":0.7},{"d":"2002-06-23","s":"004","v":0.716},{"d":"2002-07-17","s":"004","v":0.734},{"d":"2002-08-10","s":"004","v":0.737},{"d":"2002-09-16","s":"004","v":0.748},{"d":"2002-10-10","s":"004","v":0.745},{"d":"2002-11-16","s":"004","v":0.763},{"d":"2002-12-22","s":"004","v":0.766},
{"d":"2003-01-15","s":"004","v":0.766},{"d":"2003-02-21","s":"004","v":0.748},{"d":"2003-03-15","s":"004","v":0.73},{"d":"2003-04-08","s":"004","v":0.726},{"d":"2003-05-14","s":"004","v":0.71},{"d":"2003-06-20","s":"004","v":0.704},{"d":"2003-07-14","s":"004","v":0.74},{"d":"2003-08-20","s":"004","v":0.726},
{"d":"2013-03-24","s":"004","v":0.08},{"d":"2013-06-18","s":"004","v":0.95},{"d":"2013-09-12","s":"004","v":0.915},{"d":"2014-03-22","s":"004","v":0.898},{"d":"2014-12-03","s":"004","v":0.79},{"d":"2015-03-09","s":"004","v":0.814},{"d":"2015-06-14","s":"004","v":0.872},{"d":"2015-09-07","s":"004","v":0.865},{"d":"2015-12-01","s":"004","v":0.916},{"d":"2016-03-17","s":"004","v":0.876},{"d":"2016-06-11","s":"004","v":0.883},{"d":"2016-09-16","s":"004","v":0.898},{"d":"2016-12-10","s":"004","v":0.898},{"d":"2017-03-15","s":"004","v":0.8},{"d":"2017-06-20","s":"004","v":0.828},{"d":"2017-09-13","s":"004","v":0.8},{"d":"2017-12-07","s":"004","v":0.806},{"d":"2018-03-12","s":"004","v":0.8},{"d":"2018-06-18","s":"004","v":0.72},{"d":"2018-09-11","s":"004","v":0.898},{"d":"2018-12-17","s":"004","v":0.898},{"d":"2019-03-10","s":"004","v":0.726},{"d":"2019-06-15","s":"004","v":0.726},

{"d":"1987-02-13","s":"005","v":0.87},{"d":"1987-03-18","s":"005","v":0.85},{"d":"1987-04-12","s":"005","v":1.01},{"d":"1987-05-18","s":"005","v":0.91},{"d":"1987-06-12","s":"005","v":0.89},{"d":"1987-07-18","s":"005","v":0.9},{"d":"1987-08-24","s":"005","v":0.876},{"d":"1987-09-17","s":"005","v":0.87},{"d":"1987-12-22","s":"005","v":1.0},
{"d":"1988-01-29","s":"005","v":0.97},{"d":"1988-02-10","s":"005","v":0.955},{"d":"1988-03-16","s":"005","v":0.98},{"d":"1988-04-10","s":"005","v":1.03},{"d":"1988-05-16","s":"005","v":0.95},{"d":"1988-06-10","s":"005","v":0.955},{"d":"1988-07-04","s":"005","v":0.965},{"d":"1988-08-09","s":"005","v":0.975},{"d":"1988-09-15","s":"005","v":0.87},{"d":"1988-10-09","s":"005","v":0.865},{"d":"1988-11-15","s":"005","v":0.885},{"d":"1988-12-21","s":"005","v":1.01},
{"d":"1989-01-14","s":"005","v":0.995},{"d":"1989-02-08","s":"005","v":0.93},{"d":"1989-03-14","s":"005","v":0.885},{"d":"1989-04-20","s":"005","v":0.95},{"d":"1989-05-13","s":"005","v":0.95},{"d":"1989-06-19","s":"005","v":0.91},{"d":"1989-07-13","s":"005","v":0.91},{"d":"1989-08-19","s":"005","v":0.965},{"d":"1989-09-12","s":"005","v":0.885},{"d":"1989-10-19","s":"005","v":0.805},{"d":"1989-11-12","s":"005","v":0.88},{"d":"1989-12-18","s":"005","v":1.04},{"d":"1990-01-12","s":"005","v":0.875},
{"d":"1990-05-20","s":"005","v":0.073},{"d":"1990-06-15","s":"005","v":0.072},{"d":"1990-07-15","s":"005","v":0.07},{"d":"1990-08-15","s":"005","v":0.073},{"d":"1990-09-15","s":"005","v":0.071},{"d":"1990-10-15","s":"005","v":0.068},{"d":"1990-11-15","s":"005","v":0.069},{"d":"1990-12-15","s":"005","v":0.066},
{"d":"1991-01-15","s":"005","v":0.067},{"d":"1991-02-15","s":"005","v":0.064},{"d":"1991-03-15","s":"005","v":0.065},{"d":"1991-04-15","s":"005","v":0.062},{"d":"1991-05-15","s":"005","v":0.064},{"d":"1991-06-15","s":"005","v":0.061},{"d":"1991-07-15","s":"005","v":0.063},{"d":"1991-08-15","s":"005","v":0.06},{"d":"1991-09-15","s":"005","v":0.062},{"d":"1991-10-15","s":"005","v":0.059},{"d":"1991-11-15","s":"005","v":0.061},{"d":"1991-12-15","s":"005","v":0.058},
{"d":"1992-01-15","s":"005","v":0.06},{"d":"1992-02-15","s":"005","v":0.057},{"d":"1992-03-15","s":"005","v":0.059},{"d":"1992-04-15","s":"005","v":0.056},{"d":"1992-05-15","s":"005","v":0.058},{"d":"1992-06-15","s":"005","v":0.055},{"d":"1992-07-15","s":"005","v":0.057},{"d":"1992-08-15","s":"005","v":0.06},{"d":"1992-09-15","s":"005","v":0.056},{"d":"1992-10-15","s":"005","v":0.054},{"d":"1992-11-15","s":"005","v":0.055},{"d":"1992-12-15","s":"005","v":0.073},
{"d":"1993-01-15","s":"005","v":0.058},{"d":"1993-02-15","s":"005","v":0.055},{"d":"1993-03-15","s":"005","v":0.052},{"d":"1993-04-15","s":"005","v":0.054},{"d":"1993-05-15","s":"005","v":0.05},{"d":"1993-06-15","s":"005","v":0.052},{"d":"1993-07-15","s":"005","v":0.048},{"d":"1993-08-15","s":"005","v":0.051},{"d":"1993-09-15","s":"005","v":0.047},{"d":"1993-10-15","s":"005","v":0.049},{"d":"1993-11-15","s":"005","v":0.046},{"d":"1993-12-15","s":"005","v":0.048},
{"d":"1994-01-15","s":"005","v":0.045},{"d":"1994-02-15","s":"005","v":0.052},{"d":"1994-03-15","s":"005","v":0.058},{"d":"1994-04-15","s":"005","v":0.06},{"d":"1994-05-15","s":"005","v":0.057},{"d":"1994-06-15","s":"005","v":0.059},{"d":"1994-07-15","s":"005","v":0.056},{"d":"1994-08-15","s":"005","v":0.06},{"d":"1994-09-15","s":"005","v":0.062},{"d":"1994-10-15","s":"005","v":0.058},{"d":"1994-11-15","s":"005","v":0.061},{"d":"1994-12-15","s":"005","v":0.07},
{"d":"1995-01-15","s":"005","v":0.055},{"d":"1995-02-15","s":"005","v":0.052},{"d":"1995-03-15","s":"005","v":0.054},{"d":"1995-04-15","s":"005","v":0.05},{"d":"1995-05-15","s":"005","v":0.052},{"d":"1995-06-15","s":"005","v":0.048},{"d":"1995-07-15","s":"005","v":0.05},{"d":"1995-08-15","s":"005","v":0.047},{"d":"1995-09-15","s":"005","v":0.049},{"d":"1995-10-15","s":"005","v":0.046},{"d":"1995-11-15","s":"005","v":0.048},{"d":"1995-12-15","s":"005","v":0.045},
{"d":"1996-01-15","s":"005","v":0.047},{"d":"1996-02-15","s":"005","v":0.044},{"d":"1996-03-15","s":"005","v":0.046},{"d":"1996-04-15","s":"005","v":0.043},{"d":"1996-05-15","s":"005","v":0.045},{"d":"1996-06-15","s":"005","v":0.042},{"d":"1996-07-15","s":"005","v":0.044},{"d":"1996-08-15","s":"005","v":0.041},{"d":"1996-09-15","s":"005","v":0.043},{"d":"1996-10-15","s":"005","v":0.04},{"d":"1996-11-15","s":"005","v":0.042},{"d":"1996-12-15","s":"005","v":0.039},
{"d":"1997-01-15","s":"005","v":0.041},{"d":"1997-02-15","s":"005","v":0.038},{"d":"1997-03-15","s":"005","v":0.04},{"d":"1997-04-15","s":"005","v":0.037},
{"d":"1999-07-26","s":"005","v":0.036},{"d":"1999-08-15","s":"005","v":0.032},{"d":"1999-09-15","s":"005","v":0.034},{"d":"1999-10-15","s":"005","v":0.03},{"d":"1999-11-15","s":"005","v":0.033},{"d":"1999-12-15","s":"005","v":0.031},
{"d":"2000-01-15","s":"005","v":0.034},{"d":"2000-02-15","s":"005","v":0.05},{"d":"2000-03-15","s":"005","v":0.038},{"d":"2000-04-15","s":"005","v":0.036},{"d":"2000-05-15","s":"005","v":0.039},{"d":"2000-06-15","s":"005","v":0.035},{"d":"2000-07-15","s":"005","v":0.038},{"d":"2000-08-15","s":"005","v":0.036},{"d":"2000-09-15","s":"005","v":0.04},{"d":"2000-10-15","s":"005","v":0.037},{"d":"2000-11-15","s":"005","v":0.039},{"d":"2000-12-15","s":"005","v":0.036},
{"d":"2001-01-15","s":"005","v":0.04},{"d":"2001-02-15","s":"005","v":0.038},{"d":"2001-03-15","s":"005","v":0.041},{"d":"2001-04-15","s":"005","v":0.039},{"d":"2001-05-15","s":"005","v":0.042},{"d":"2001-06-15","s":"005","v":0.04},{"d":"2001-07-15","s":"005","v":0.037},{"d":"2001-08-15","s":"005","v":0.04},{"d":"2001-09-15","s":"005","v":0.041},{"d":"2001-10-15","s":"005","v":0.048},{"d":"2001-11-15","s":"005","v":0.044},{"d":"2001-12-15","s":"005","v":0.042},
{"d":"2002-01-15","s":"005","v":0.045},{"d":"2002-02-15","s":"005","v":0.043},{"d":"2002-03-15","s":"005","v":0.046},{"d":"2002-04-15","s":"005","v":0.044},{"d":"2002-05-15","s":"005","v":0.047},{"d":"2002-06-15","s":"005","v":0.045},{"d":"2002-07-15","s":"005","v":0.043},{"d":"2002-08-15","s":"005","v":0.046},{"d":"2002-09-15","s":"005","v":0.058},{"d":"2002-10-15","s":"005","v":0.048},{"d":"2002-11-15","s":"005","v":0.046},{"d":"2002-12-15","s":"005","v":0.049},
{"d":"2003-01-15","s":"005","v":0.047},{"d":"2003-02-15","s":"005","v":0.05},{"d":"2003-03-15","s":"005","v":0.048},{"d":"2003-04-15","s":"005","v":0.06},{"d":"2003-05-15","s":"005","v":0.05},{"d":"2003-06-15","s":"005","v":0.033},{"d":"2003-07-15","s":"005","v":0.028},{"d":"2003-08-20","s":"005","v":0.022},
{"d":"2013-03-24","s":"005","v":0.018},{"d":"2013-06-18","s":"005","v":0.04},{"d":"2013-09-12","s":"005","v":0.018},{"d":"2014-03-22","s":"005","v":0.014},{"d":"2014-12-03","s":"005","v":0.008},{"d":"2015-03-09","s":"005","v":0.01},{"d":"2015-06-14","s":"005","v":0.008},{"d":"2015-09-07","s":"005","v":0.01},{"d":"2015-12-01","s":"005","v":0.01},{"d":"2016-03-17","s":"005","v":0.018},{"d":"2016-06-11","s":"005","v":0.02},{"d":"2016-09-16","s":"005","v":0.018},{"d":"2016-12-10","s":"005","v":0.018},{"d":"2017-03-15","s":"005","v":0.015},{"d":"2017-06-20","s":"005","v":0.015},{"d":"2017-09-13","s":"005","v":0.008},{"d":"2017-12-07","s":"005","v":0.01},{"d":"2018-03-12","s":"005","v":0.01},{"d":"2018-06-18","s":"005","v":0.008},{"d":"2018-09-11","s":"005","v":0.01},{"d":"2018-12-17","s":"005","v":0.01},{"d":"2019-03-10","s":"005","v":0.008},{"d":"2019-06-15","s":"005","v":0.008},

{"d":"1987-02-15","s":"008","v":0.0},{"d":"1987-03-15","s":"008","v":-0.003},{"d":"1987-04-15","s":"008","v":0.001},{"d":"1987-05-15","s":"008","v":-0.002},{"d":"1987-06-15","s":"008","v":0.0},{"d":"1987-07-15","s":"008","v":-0.003},{"d":"1987-08-15","s":"008","v":-0.001},{"d":"1987-09-15","s":"008","v":-0.002},{"d":"1987-10-15","s":"008","v":0.001},{"d":"1987-11-15","s":"008","v":-0.002},{"d":"1987-12-15","s":"008","v":0.0},{"d":"1988-01-15","s":"008","v":-0.002},{"d":"1988-02-15","s":"008","v":0.001},{"d":"1988-03-15","s":"008","v":-0.001},{"d":"1988-04-15","s":"008","v":0.0},{"d":"1988-05-01","s":"008","v":0.002},
{"d":"1990-05-10","s":"008","v":0.376},{"d":"1990-08-16","s":"008","v":0.333},{"d":"1990-09-15","s":"008","v":0.29},{"d":"1990-10-15","s":"008","v":0.28},{"d":"1990-11-15","s":"008","v":0.285},{"d":"1990-12-15","s":"008","v":0.275},
{"d":"1991-01-15","s":"008","v":0.28},{"d":"1991-02-15","s":"008","v":0.27},{"d":"1991-03-15","s":"008","v":0.285},{"d":"1991-04-15","s":"008","v":0.275},{"d":"1991-05-15","s":"008","v":0.265},{"d":"1991-06-15","s":"008","v":0.27},{"d":"1991-07-15","s":"008","v":0.26},{"d":"1991-08-15","s":"008","v":0.275},{"d":"1991-09-15","s":"008","v":0.268},{"d":"1991-10-15","s":"008","v":0.26},{"d":"1991-11-15","s":"008","v":0.272},{"d":"1991-12-15","s":"008","v":0.265},
{"d":"1992-01-15","s":"008","v":0.26},{"d":"1992-02-15","s":"008","v":0.255},{"d":"1992-03-15","s":"008","v":0.265},{"d":"1992-04-15","s":"008","v":0.25},{"d":"1992-05-15","s":"008","v":0.258},{"d":"1992-06-15","s":"008","v":0.248},{"d":"1992-07-15","s":"008","v":0.255},{"d":"1992-08-15","s":"008","v":0.262},{"d":"1992-09-15","s":"008","v":0.25},{"d":"1992-10-15","s":"008","v":0.258},{"d":"1992-11-15","s":"008","v":0.265},{"d":"1992-12-15","s":"008","v":0.27},
{"d":"1993-01-15","s":"008","v":0.275},{"d":"1993-02-15","s":"008","v":0.268},{"d":"1993-03-15","s":"008","v":0.28},{"d":"1993-04-15","s":"008","v":0.272},{"d":"1993-05-15","s":"008","v":0.285},{"d":"1993-06-15","s":"008","v":0.278},{"d":"1993-07-15","s":"008","v":0.29},{"d":"1993-08-15","s":"008","v":0.282},{"d":"1993-09-15","s":"008","v":0.295},{"d":"1993-10-15","s":"008","v":0.285},{"d":"1993-11-15","s":"008","v":0.29},{"d":"1993-12-15","s":"008","v":0.28},
{"d":"1994-01-15","s":"008","v":0.288},{"d":"1994-02-15","s":"008","v":0.295},{"d":"1994-03-15","s":"008","v":0.285},{"d":"1994-04-15","s":"008","v":0.292},{"d":"1994-05-15","s":"008","v":0.3},{"d":"1994-06-15","s":"008","v":0.29},{"d":"1994-07-15","s":"008","v":0.296},{"d":"1994-08-15","s":"008","v":0.287},{"d":"1994-09-15","s":"008","v":0.293},{"d":"1994-10-15","s":"008","v":0.285},{"d":"1994-11-15","s":"008","v":0.29},{"d":"1994-12-15","s":"008","v":0.298},
{"d":"1995-01-15","s":"008","v":0.292},{"d":"1995-02-15","s":"008","v":0.285},{"d":"1995-03-15","s":"008","v":0.29},{"d":"1995-04-15","s":"008","v":0.28},{"d":"1995-05-15","s":"008","v":0.288},{"d":"1995-06-15","s":"008","v":0.295},{"d":"1995-07-15","s":"008","v":0.285},{"d":"1995-08-15","s":"008","v":0.278},{"d":"1995-09-15","s":"008","v":0.29},{"d":"1995-10-15","s":"008","v":0.297},{"d":"1995-11-15","s":"008","v":0.288},{"d":"1995-12-15","s":"008","v":0.295},
{"d":"1996-01-15","s":"008","v":0.3},{"d":"1996-02-15","s":"008","v":0.29},{"d":"1996-03-15","s":"008","v":0.283},{"d":"1996-04-15","s":"008","v":0.292},{"d":"1996-05-15","s":"008","v":0.288},{"d":"1996-06-15","s":"008","v":0.28},{"d":"1996-07-15","s":"008","v":0.275},{"d":"1996-08-15","s":"008","v":0.285},{"d":"1996-09-15","s":"008","v":0.292},{"d":"1996-10-15","s":"008","v":0.3},{"d":"1996-11-15","s":"008","v":0.285},{"d":"1996-12-15","s":"008","v":0.278},
{"d":"1997-01-15","s":"008","v":0.27},{"d":"1997-02-15","s":"008","v":0.282},{"d":"1997-03-15","s":"008","v":0.29},{"d":"1997-04-24","s":"008","v":0.3},
{"d":"1999-08-29","s":"008","v":0.255},{"d":"1999-09-22","s":"008","v":0.219},{"d":"1999-10-17","s":"008","v":0.186},{"d":"1999-11-11","s":"008","v":0.234},{"d":"1999-12-17","s":"008","v":0.24},{"d":"2000-01-11","s":"008","v":0.234},{"d":"2000-02-04","s":"008","v":0.24},{"d":"2000-03-10","s":"008","v":0.255},{"d":"2000-04-16","s":"008","v":0.259},{"d":"2000-05-09","s":"008","v":0.277},{"d":"2000-06-15","s":"008","v":0.292},{"d":"2000-07-09","s":"008","v":0.292},{"d":"2000-08-15","s":"008","v":0.292},{"d":"2000-09-09","s":"008","v":0.277},{"d":"2000-10-15","s":"008","v":0.277},{"d":"2000-11-09","s":"008","v":0.27},{"d":"2000-12-14","s":"008","v":0.266},
{"d":"2001-01-08","s":"008","v":0.259},{"d":"2001-02-02","s":"008","v":0.255},{"d":"2001-02-25","s":"008","v":0.263},{"d":"2001-04-02","s":"008","v":0.277},{"d":"2001-04-25","s":"008","v":0.285},{"d":"2001-05-19","s":"008","v":0.292},{"d":"2001-06-25","s":"008","v":0.3},{"d":"2001-07-19","s":"008","v":0.303},{"d":"2001-08-12","s":"008","v":0.307},{"d":"2001-09-18","s":"008","v":0.314},{"d":"2001-10-24","s":"008","v":0.32},{"d":"2001-11-17","s":"008","v":0.277},{"d":"2001-12-12","s":"008","v":0.274},
{"d":"2002-01-17","s":"008","v":0.277},{"d":"2002-02-22","s":"008","v":0.274},{"d":"2002-03-17","s":"008","v":0.277},{"d":"2002-04-23","s":"008","v":0.28},{"d":"2002-05-16","s":"008","v":0.285},{"d":"2002-06-23","s":"008","v":0.292},{"d":"2002-07-17","s":"008","v":0.296},{"d":"2002-08-10","s":"008","v":0.292},{"d":"2002-09-16","s":"008","v":0.358},{"d":"2002-10-10","s":"008","v":0.31},{"d":"2002-11-16","s":"008","v":0.31},{"d":"2002-12-22","s":"008","v":0.307},
{"d":"2003-01-15","s":"008","v":0.314},{"d":"2003-02-21","s":"008","v":0.31},{"d":"2003-03-15","s":"008","v":0.303},{"d":"2003-04-08","s":"008","v":0.296},{"d":"2003-05-14","s":"008","v":0.314},{"d":"2003-06-20","s":"008","v":0.303},{"d":"2003-07-14","s":"008","v":0.303},{"d":"2003-08-20","s":"008","v":0.303},
{"d":"2013-03-24","s":"008","v":0.398},{"d":"2013-06-18","s":"008","v":0.44},{"d":"2013-09-12","s":"008","v":0.44},{"d":"2014-03-22","s":"008","v":0.478},{"d":"2014-12-03","s":"008","v":0.409},{"d":"2015-03-09","s":"008","v":0.38},{"d":"2015-06-14","s":"008","v":0.464},{"d":"2015-09-07","s":"008","v":0.409},{"d":"2015-12-01","s":"008","v":0.412},{"d":"2016-03-17","s":"008","v":0.44},{"d":"2016-06-11","s":"008","v":0.416},{"d":"2016-09-16","s":"008","v":0.42},{"d":"2016-12-10","s":"008","v":0.427},{"d":"2017-03-15","s":"008","v":0.409},{"d":"2017-06-20","s":"008","v":0.46},{"d":"2017-09-13","s":"008","v":0.405},{"d":"2017-12-07","s":"008","v":0.427},{"d":"2018-03-12","s":"008","v":0.464},{"d":"2018-06-18","s":"008","v":0.409},{"d":"2018-09-11","s":"008","v":0.394},{"d":"2018-12-17","s":"008","v":0.365},{"d":"2019-03-10","s":"008","v":0.39},{"d":"2019-06-15","s":"008","v":0.478},

{"d":"1987-02-15","s":"012","v":0.032},{"d":"1987-03-15","s":"012","v":0.035},{"d":"1987-04-15","s":"012","v":0.03},{"d":"1987-05-15","s":"012","v":0.033},{"d":"1987-06-15","s":"012","v":0.036},{"d":"1987-07-15","s":"012","v":0.031},{"d":"1987-08-15","s":"012","v":0.034},{"d":"1987-09-15","s":"012","v":0.03},{"d":"1987-10-15","s":"012","v":0.032},{"d":"1987-11-15","s":"012","v":0.035},{"d":"1987-12-15","s":"012","v":0.033},
{"d":"1988-01-15","s":"012","v":0.03},{"d":"1988-02-15","s":"012","v":0.028},{"d":"1988-03-15","s":"012","v":0.026},{"d":"1988-04-15","s":"012","v":0.024},{"d":"1988-05-15","s":"012","v":0.022},{"d":"1988-06-15","s":"012","v":0.02},{"d":"1988-07-15","s":"012","v":0.021},{"d":"1988-08-15","s":"012","v":0.019},{"d":"1988-09-15","s":"012","v":0.02},{"d":"1988-10-15","s":"012","v":0.018},{"d":"1988-11-15","s":"012","v":0.019},{"d":"1988-12-15","s":"012","v":0.017},
{"d":"1989-01-15","s":"012","v":0.018},{"d":"1989-02-15","s":"012","v":0.016},{"d":"1989-03-15","s":"012","v":0.017},{"d":"1989-04-15","s":"012","v":0.015},{"d":"1989-05-15","s":"012","v":0.016},{"d":"1989-06-15","s":"012","v":0.014},{"d":"1989-07-15","s":"012","v":0.015},{"d":"1989-08-15","s":"012","v":0.013},{"d":"1989-09-15","s":"012","v":0.015},{"d":"1989-10-15","s":"012","v":0.014},{"d":"1989-11-15","s":"012","v":0.016},{"d":"1989-12-15","s":"012","v":0.013},{"d":"1990-01-15","s":"012","v":0.015},
{"d":"1990-08-16","s":"012","v":0.416},{"d":"1990-09-15","s":"012","v":0.43},{"d":"1990-10-15","s":"012","v":0.44},{"d":"1990-11-15","s":"012","v":0.45},{"d":"1990-12-15","s":"012","v":0.445},
{"d":"1991-01-15","s":"012","v":0.455},{"d":"1991-02-15","s":"012","v":0.46},{"d":"1991-03-15","s":"012","v":0.47},{"d":"1991-04-15","s":"012","v":0.465},{"d":"1991-05-15","s":"012","v":0.475},{"d":"1991-06-15","s":"012","v":0.48},{"d":"1991-07-15","s":"012","v":0.47},{"d":"1991-08-15","s":"012","v":0.478},{"d":"1991-09-15","s":"012","v":0.485},{"d":"1991-10-15","s":"012","v":0.48},{"d":"1991-11-15","s":"012","v":0.488},{"d":"1991-12-15","s":"012","v":0.482},
{"d":"1992-01-15","s":"012","v":0.49},{"d":"1992-02-15","s":"012","v":0.485},{"d":"1992-03-15","s":"012","v":0.47},{"d":"1992-04-15","s":"012","v":0.455},{"d":"1992-05-15","s":"012","v":0.46},{"d":"1992-06-15","s":"012","v":0.45},{"d":"1992-07-15","s":"012","v":0.44},{"d":"1992-08-15","s":"012","v":0.435},{"d":"1992-09-15","s":"012","v":0.43},{"d":"1992-10-15","s":"012","v":0.437},{"d":"1992-11-15","s":"012","v":0.43},{"d":"1992-12-15","s":"012","v":0.44},
{"d":"1993-01-15","s":"012","v":0.435},{"d":"1993-02-15","s":"012","v":0.445},{"d":"1993-03-15","s":"012","v":0.44},{"d":"1993-04-15","s":"012","v":0.45},{"d":"1993-05-15","s":"012","v":0.445},{"d":"1993-06-15","s":"012","v":0.455},{"d":"1993-07-15","s":"012","v":0.448},{"d":"1993-08-15","s":"012","v":0.44},{"d":"1993-09-15","s":"012","v":0.45},{"d":"1993-10-15","s":"012","v":0.457},{"d":"1993-11-15","s":"012","v":0.45},{"d":"1993-12-15","s":"012","v":0.46},
{"d":"1994-01-15","s":"012","v":0.455},{"d":"1994-02-15","s":"012","v":0.465},{"d":"1994-03-15","s":"012","v":0.46},{"d":"1994-04-15","s":"012","v":0.47},{"d":"1994-05-15","s":"012","v":0.465},{"d":"1994-06-15","s":"012","v":0.475},{"d":"1994-07-15","s":"012","v":0.49},{"d":"1994-08-15","s":"012","v":0.48},{"d":"1994-09-15","s":"012","v":0.485},{"d":"1994-10-15","s":"012","v":0.478},{"d":"1994-11-15","s":"012","v":0.49},{"d":"1994-12-15","s":"012","v":0.5},
{"d":"1995-01-15","s":"012","v":0.495},{"d":"1995-02-15","s":"012","v":0.49},{"d":"1995-03-15","s":"012","v":0.5},{"d":"1995-04-15","s":"012","v":0.495},{"d":"1995-05-15","s":"012","v":0.505},{"d":"1995-06-15","s":"012","v":0.51},{"d":"1995-07-15","s":"012","v":0.536},{"d":"1995-08-15","s":"012","v":0.52},{"d":"1995-09-15","s":"012","v":0.515},{"d":"1995-10-15","s":"012","v":0.505},{"d":"1995-11-15","s":"012","v":0.51},{"d":"1995-12-15","s":"012","v":0.5},
{"d":"1996-01-15","s":"012","v":0.505},{"d":"1996-02-15","s":"012","v":0.5},{"d":"1996-03-15","s":"012","v":0.51},{"d":"1996-04-15","s":"012","v":0.505},{"d":"1996-05-15","s":"012","v":0.512},{"d":"1996-06-15","s":"012","v":0.52},{"d":"1996-07-15","s":"012","v":0.53},{"d":"1996-08-15","s":"012","v":0.515},{"d":"1996-09-15","s":"012","v":0.51},{"d":"1996-10-15","s":"012","v":0.5},{"d":"1996-11-15","s":"012","v":0.505},{"d":"1996-12-15","s":"012","v":0.51},
{"d":"1997-01-15","s":"012","v":0.5},{"d":"1997-02-15","s":"012","v":0.51},{"d":"1997-03-15","s":"012","v":0.52},{"d":"1997-04-24","s":"012","v":0.525},
{"d":"1999-08-29","s":"012","v":0.566},{"d":"1999-09-22","s":"012","v":0.54},{"d":"1999-10-17","s":"012","v":0.533},{"d":"1999-11-11","s":"012","v":0.535},{"d":"1999-12-17","s":"012","v":0.515},{"d":"2000-01-11","s":"012","v":0.52},{"d":"2000-02-04","s":"012","v":0.51},{"d":"2000-03-10","s":"012","v":0.504},
{"d":"2000-12-26","s":"012","v":0.496},{"d":"2001-01-20","s":"012","v":0.482},{"d":"2001-02-13","s":"012","v":0.464},{"d":"2001-03-20","s":"012","v":0.456},{"d":"2001-04-13","s":"012","v":0.467},{"d":"2001-05-19","s":"012","v":0.474},{"d":"2001-06-13","s":"012","v":0.438},{"d":"2001-07-19","s":"012","v":0.493},{"d":"2001-08-12","s":"012","v":0.496},{"d":"2001-09-06","s":"012","v":0.482},{"d":"2001-10-12","s":"012","v":0.493},{"d":"2001-11-06","s":"012","v":0.474},{"d":"2001-12-12","s":"012","v":0.467},
{"d":"2002-01-06","s":"012","v":0.496},{"d":"2002-02-12","s":"012","v":0.5},{"d":"2002-03-06","s":"012","v":0.474},{"d":"2002-03-30","s":"012","v":0.46},{"d":"2002-04-23","s":"012","v":0.464},{"d":"2002-05-29","s":"012","v":0.434},{"d":"2002-06-23","s":"012","v":0.449},{"d":"2002-07-17","s":"012","v":0.456},{"d":"2002-08-10","s":"012","v":0.453},{"d":"2002-09-16","s":"012","v":0.442},{"d":"2002-10-10","s":"012","v":0.438},{"d":"2002-11-16","s":"012","v":0.442},{"d":"2002-12-22","s":"012","v":0.449},
{"d":"2003-01-15","s":"012","v":0.456},{"d":"2003-02-21","s":"012","v":0.449},{"d":"2003-03-15","s":"012","v":0.442},{"d":"2003-04-08","s":"012","v":0.434},{"d":"2003-05-14","s":"012","v":0.438},{"d":"2003-06-20","s":"012","v":0.405},{"d":"2003-07-14","s":"012","v":0.416},{"d":"2003-08-20","s":"012","v":0.427},
{"d":"2013-03-24","s":"012","v":0.38},{"d":"2013-06-18","s":"012","v":0.49},{"d":"2013-09-12","s":"012","v":0.496},{"d":"2014-03-22","s":"012","v":0.427},{"d":"2014-12-03","s":"012","v":0.394},{"d":"2015-03-09","s":"012","v":0.427},{"d":"2015-06-14","s":"012","v":0.46},{"d":"2015-09-07","s":"012","v":0.427},{"d":"2015-12-01","s":"012","v":0.427},{"d":"2016-03-17","s":"012","v":0.412},{"d":"2016-06-11","s":"012","v":0.405},{"d":"2016-09-16","s":"012","v":0.394},{"d":"2016-12-10","s":"012","v":0.394},{"d":"2017-03-15","s":"012","v":0.394},{"d":"2017-06-20","s":"012","v":0.46},{"d":"2017-09-13","s":"012","v":0.387},{"d":"2017-12-07","s":"012","v":0.409},{"d":"2018-03-12","s":"012","v":0.427},{"d":"2018-06-18","s":"012","v":0.376},{"d":"2018-09-11","s":"012","v":0.376},{"d":"2018-12-17","s":"012","v":0.394},{"d":"2019-03-10","s":"012","v":0.394},{"d":"2019-06-15","s":"012","v":0.412}
]},
"encoding":{"x":{"field":"d","type":"temporal",
 "scale":{"type":"utc","domain":[{"year":1985,"month":1,"date":1,"utc":true},{"year":2019,"month":6,"date":30,"utc":true}]},
 "axis":{"title":null,"values":[{"year":1985,"month":1,"date":1,"utc":true},{"year":1986,"month":9,"date":23,"utc":true},{"year":1988,"month":6,"date":13,"utc":true},{"year":1990,"month":3,"date":5,"utc":true},{"year":1991,"month":11,"date":25,"utc":true},{"year":1993,"month":8,"date":17,"utc":true},{"year":1995,"month":5,"date":8,"utc":true},{"year":1997,"month":1,"date":28,"utc":true},{"year":1998,"month":10,"date":19,"utc":true},{"year":2000,"month":7,"date":10,"utc":true},{"year":2002,"month":4,"date":1,"utc":true},{"year":2003,"month":12,"date":21,"utc":true},{"year":2005,"month":9,"date":11,"utc":true},{"year":2007,"month":6,"date":3,"utc":true},{"year":2009,"month":2,"date":22,"utc":true},{"year":2010,"month":11,"date":13,"utc":true},{"year":2012,"month":8,"date":5,"utc":true},{"year":2014,"month":4,"date":26,"utc":true},{"year":2016,"month":1,"date":17,"utc":true},{"year":2017,"month":10,"date":8,"utc":true},{"year":2019,"month":6,"date":30,"utc":true}],
  "labelExpr":"indexof(['01/01/1985','13/06/1988','25/11/1991','08/05/1995','19/10/1998','01/04/2002','11/09/2005','22/02/2009','05/08/2012','17/01/2016','30/06/2019'], utcFormat(datum.value,'%d/%m/%Y')) >= 0 ? utcFormat(datum.value,'%d/%m/%Y') : ''",
  "labelAngle":270,"labelFontSize":13.5,"labelPadding":8,"labelFlush":false,"labelOverlap":false,"ticks":false,"tickSize":0,
  "domainColor":"#a8a8a8","grid":true,"gridColor":"#e2e2e2"}}},
"layer":[
 {"data":{"name":"lvl"},
  "encoding":{"y":{"field":"v","type":"quantitative","scale":{"domain":[95,149.8],"nice":false,"zero":false},
     "axis":{"orient":"left","values":[95,100,105,110,115,120,125],"labelExpr":"replace(format(datum.value,'.2f'),'.',',')","labelFontSize":15,"labelPadding":5,"labelOverlap":false,"ticks":false,"tickSize":0,"grid":false,"domainColor":"#a9b9e6",
      "title":"Nível de jusante (msnm)","titleFontSize":15.5,"titleFontWeight":"bold","titleAngle":270,"titleX":-67,"titleY":423,"titleAlign":"center","titleBaseline":"middle"}}},
  "layer":[
  {"mark":{"type":"line","strokeWidth":1.3,"color":"#8aa1ea"},"encoding":{}},
  {"mark":{"type":"point","shape":"diamond","filled":true,"size":24,"opacity":1},
   "encoding":{
    "color":{"datum":"Nível de Jusante - Medio Semanal","type":"nominal","scale":{"range":["#3d5fd4"]},
     "legend":{"orient":"none","legendX":671,"legendY":733,"title":null,"symbolType":"M0,-1L0.62,0L0,1L-0.62,0Z","symbolSize":196,"symbolStrokeColor":"#333","symbolStrokeWidth":0.8,"labelFontSize":15.5,"labelOffset":7,"labelLimit":400}}}},
  {"data":{"values":[{"k":1}]},"mark":{"type":"rule","clip":false,"color":"#111111","strokeWidth":2},
   "encoding":{"x":{"datum":392688000000,"type":"temporal"},"x2":{"datum":1569369600000},"y":{"datum":86.3,"type":"quantitative"}}},
  {"data":{"values":[{"k":1}]},"mark":{"type":"rule","clip":false,"color":"#cccccc","strokeWidth":1},
   "encoding":{"x":{"datum":392688000000,"type":"temporal"},"x2":{"datum":1569369600000},"y":{"datum":151.6,"type":"quantitative"}}},
  {"data":{"values":[{"k":1}]},"mark":{"type":"rule","clip":false,"color":"#777777","strokeWidth":1},
   "encoding":{"x":{"datum":392688000000,"type":"temporal"},"y":{"datum":151.6,"type":"quantitative"},"y2":{"datum":81.3}}}
 ]},
 {"data":{"name":"vaz"},
  "encoding":{"y":{"field":"v","type":"quantitative","scale":{"domain":[-0.81,1.397],"nice":false,"zero":false},
     "axis":{"orient":"left","offset":-56,"domain":false,"ticks":false,"tickSize":0,"labelPadding":3,"labelFontSize":15,"labelOverlap":false,
      "values":[-0.8,-0.75,-0.7,-0.65,-0.6,-0.55,-0.5,-0.45,-0.4,-0.35,-0.3,-0.25,-0.2,-0.15,-0.1,-0.05,0,0.05,0.1,0.15,0.2,0.25,0.3,0.35,0.4,0.45,0.5,0.55,0.6,0.65,0.7,0.75,0.8,0.85,0.9,0.95,1,1.05,1.1,1.15,1.2,1.25,1.3,1.35],
      "labelExpr":"datum.value > -0.001 && datum.value < 1.21 && round(datum.value*20) % 2 == 0 ? replace(format(datum.value,'.2f'),'.',',') : ''",
      "grid":true,"gridColor":"#e2e2e2",
      "title":["Vazão","(l/s)"],"titleFontSize":14.5,"titleFontWeight":"bold","titleAngle":0,"titleX":-19,"titleY":0,"titleAlign":"center","titleBaseline":"top","titleLineHeight":19}}},
  "layer":[
  {"mark":{"type":"line","strokeWidth":1},
   "encoding":{"stroke":{"field":"s","type":"nominal","scale":{"domain":["004","005","008","012"],"range":["#f08a8a","#b4b4b4","#98cc98","#e2c47e"]},"legend":null}}},
  {"mark":{"type":"point","shape":"diamond","filled":true,"size":22,"opacity":1,"stroke":"#333","strokeWidth":0.4},
   "encoding":{
    "color":{"field":"s","type":"nominal","scale":{"domain":["004","005","008","012"],"range":["#dd0000","#555555","#2e8b2e","#c9961c"]},
     "legend":{"orient":"none","legendX":-39,"legendY":710,"columns":2,"columnPadding":49,"rowPadding":3,"title":null,"symbolType":"M0,-1L0.62,0L0,1L-0.62,0Z","symbolSize":196,"symbolStrokeColor":"#333","symbolStrokeWidth":0.8,"labelFontSize":15.5,"labelOffset":7,"labelLimit":400,
      "labelExpr":"'(MAN.) - Med-DTJ-U-' + datum.label + ' - 1 - Caudal (l/s)'"}}}}
 ]}
],
"resolve":{"scale":{"y":"independent","color":"independent"}}
}
